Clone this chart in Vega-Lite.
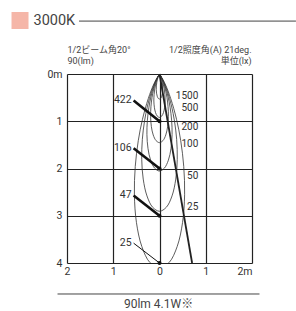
{
"$schema": "https://vega.github.io/schema/vega-lite/v6.json",
"width": 185, "height": 189,
"autosize": {"type": "none"},
"padding": {"left": 67, "top": 74, "right": 44, "bottom": 48},
"background": "white",
"config": {
  "view": {"stroke": null},
  "axis": {"labelFont": "Roboto", "labelFontSize": 10.5, "labelColor": "#333", "grid": true, "gridColor": "#222", "gridWidth": 1.2, "gridOpacity": 1, "domain": false, "ticks": false, "title": null},
  "text": {"font": "Roboto", "color": "#333"}
},
"datasets": {
  "contours": [
    {"c":1500,"o":0,"x":0,"y":0},{"c":1500,"o":1,"x":-0.016,"y":0.027},{"c":1500,"o":2,"x":-0.031,"y":0.067},{"c":1500,"o":3,"x":-0.048,"y":0.124},{"c":1500,"o":4,"x":-0.059,"y":0.182},{"c":1500,"o":5,"x":-0.068,"y":0.252},{"c":1500,"o":6,"x":-0.070,"y":0.330},{"c":1500,"o":7,"x":-0.064,"y":0.406},{"c":1500,"o":8,"x":-0.049,"y":0.471},{"c":1500,"o":9,"x":-0.027,"y":0.515},{"c":1500,"o":10,"x":0,"y":0.530},{"c":1500,"o":11,"x":0.027,"y":0.515},{"c":1500,"o":12,"x":0.049,"y":0.471},{"c":1500,"o":13,"x":0.064,"y":0.406},{"c":1500,"o":14,"x":0.070,"y":0.330},{"c":1500,"o":15,"x":0.068,"y":0.252},{"c":1500,"o":16,"x":0.059,"y":0.182},{"c":1500,"o":17,"x":0.048,"y":0.124},{"c":1500,"o":18,"x":0.031,"y":0.067},{"c":1500,"o":19,"x":0.016,"y":0.027},{"c":1500,"o":20,"x":0,"y":0},
    {"c":500,"o":0,"x":0,"y":0},{"c":500,"o":1,"x":-0.027,"y":0.047},{"c":500,"o":2,"x":-0.054,"y":0.117},{"c":500,"o":3,"x":-0.082,"y":0.215},{"c":500,"o":4,"x":-0.103,"y":0.316},{"c":500,"o":5,"x":-0.117,"y":0.438},{"c":500,"o":6,"x":-0.122,"y":0.572},{"c":500,"o":7,"x":-0.111,"y":0.704},{"c":500,"o":8,"x":-0.086,"y":0.816},{"c":500,"o":9,"x":-0.047,"y":0.892},{"c":500,"o":10,"x":0,"y":0.919},{"c":500,"o":11,"x":0.047,"y":0.892},{"c":500,"o":12,"x":0.086,"y":0.816},{"c":500,"o":13,"x":0.111,"y":0.704},{"c":500,"o":14,"x":0.122,"y":0.572},{"c":500,"o":15,"x":0.117,"y":0.438},{"c":500,"o":16,"x":0.103,"y":0.316},{"c":500,"o":17,"x":0.082,"y":0.215},{"c":500,"o":18,"x":0.054,"y":0.117},{"c":500,"o":19,"x":0.027,"y":0.047},{"c":500,"o":20,"x":0,"y":0},
    {"c":200,"o":0,"x":0,"y":0},{"c":200,"o":1,"x":-0.043,"y":0.074},{"c":200,"o":2,"x":-0.086,"y":0.185},{"c":200,"o":3,"x":-0.130,"y":0.339},{"c":200,"o":4,"x":-0.162,"y":0.499},{"c":200,"o":5,"x":-0.185,"y":0.692},{"c":200,"o":6,"x":-0.192,"y":0.904},{"c":200,"o":7,"x":-0.176,"y":1.112},{"c":200,"o":8,"x":-0.136,"y":1.290},{"c":200,"o":9,"x":-0.074,"y":1.410},{"c":200,"o":10,"x":0,"y":1.453},{"c":200,"o":11,"x":0.074,"y":1.410},{"c":200,"o":12,"x":0.136,"y":1.290},{"c":200,"o":13,"x":0.176,"y":1.112},{"c":200,"o":14,"x":0.192,"y":0.904},{"c":200,"o":15,"x":0.185,"y":0.692},{"c":200,"o":16,"x":0.162,"y":0.499},{"c":200,"o":17,"x":0.130,"y":0.339},{"c":200,"o":18,"x":0.086,"y":0.185},{"c":200,"o":19,"x":0.043,"y":0.074},{"c":200,"o":20,"x":0,"y":0},
    {"c":100,"o":0,"x":0,"y":0},{"c":100,"o":1,"x":-0.061,"y":0.105},{"c":100,"o":2,"x":-0.122,"y":0.261},{"c":100,"o":3,"x":-0.184,"y":0.479},{"c":100,"o":4,"x":-0.229,"y":0.705},{"c":100,"o":5,"x":-0.262,"y":0.978},{"c":100,"o":6,"x":-0.272,"y":1.278},{"c":100,"o":7,"x":-0.249,"y":1.573},{"c":100,"o":8,"x":-0.192,"y":1.824},{"c":100,"o":9,"x":-0.104,"y":1.994},{"c":100,"o":10,"x":0,"y":2.054},{"c":100,"o":11,"x":0.104,"y":1.994},{"c":100,"o":12,"x":0.192,"y":1.824},{"c":100,"o":13,"x":0.249,"y":1.573},{"c":100,"o":14,"x":0.272,"y":1.278},{"c":100,"o":15,"x":0.262,"y":0.978},{"c":100,"o":16,"x":0.229,"y":0.705},{"c":100,"o":17,"x":0.184,"y":0.479},{"c":100,"o":18,"x":0.122,"y":0.261},{"c":100,"o":19,"x":0.061,"y":0.105},{"c":100,"o":20,"x":0,"y":0},
    {"c":50,"o":0,"x":0,"y":0},{"c":50,"o":1,"x":-0.086,"y":0.148},{"c":50,"o":2,"x":-0.172,"y":0.369},{"c":50,"o":3,"x":-0.260,"y":0.678},{"c":50,"o":4,"x":-0.324,"y":0.998},{"c":50,"o":5,"x":-0.371,"y":1.383},{"c":50,"o":6,"x":-0.384,"y":1.807},{"c":50,"o":7,"x":-0.352,"y":2.224},{"c":50,"o":8,"x":-0.271,"y":2.580},{"c":50,"o":9,"x":-0.148,"y":2.820},{"c":50,"o":10,"x":0,"y":2.905},{"c":50,"o":11,"x":0.148,"y":2.820},{"c":50,"o":12,"x":0.271,"y":2.580},{"c":50,"o":13,"x":0.352,"y":2.224},{"c":50,"o":14,"x":0.384,"y":1.807},{"c":50,"o":15,"x":0.371,"y":1.383},{"c":50,"o":16,"x":0.324,"y":0.998},{"c":50,"o":17,"x":0.260,"y":0.678},{"c":50,"o":18,"x":0.172,"y":0.369},{"c":50,"o":19,"x":0.086,"y":0.148},{"c":50,"o":20,"x":0,"y":0},
    {"c":25,"o":0,"x":0,"y":0},{"c":25,"o":1,"x":-0.121,"y":0.210},{"c":25,"o":2,"x":-0.243,"y":0.522},{"c":25,"o":3,"x":-0.368,"y":0.959},{"c":25,"o":4,"x":-0.459,"y":1.411},{"c":25,"o":5,"x":-0.524,"y":1.956},{"c":25,"o":6,"x":-0.543,"y":2.556},{"c":25,"o":7,"x":-0.498,"y":3.146},{"c":25,"o":8,"x":-0.383,"y":3.649},{"c":25,"o":9,"x":-0.209,"y":3.989},{"c":25,"o":10,"x":0,"y":4.109},{"c":25,"o":11,"x":0.209,"y":3.989},{"c":25,"o":12,"x":0.383,"y":3.649},{"c":25,"o":13,"x":0.498,"y":3.146},{"c":25,"o":14,"x":0.543,"y":2.556},{"c":25,"o":15,"x":0.524,"y":1.956},{"c":25,"o":16,"x":0.459,"y":1.411},{"c":25,"o":17,"x":0.368,"y":0.959},{"c":25,"o":18,"x":0.243,"y":0.522},{"c":25,"o":19,"x":0.121,"y":0.210},{"c":25,"o":20,"x":0,"y":0}
  ],
  "beam": [{"x": 0, "y": 0, "x2": 0.705, "y2": 4}],
  "centers": [
    {"v": 422, "x": -0.56, "y": 0.56, "x2": 0, "y2": 1},
    {"v": 106, "x": -0.56, "y": 1.57, "x2": 0, "y2": 2},
    {"v": 47, "x": -0.56, "y": 2.57, "x2": 0, "y2": 3},
    {"v": 25, "x": -0.56, "y": 3.58, "x2": 0, "y2": 4}
  ],
  "rlabels": [
    {"t": "1500", "x": 0.84, "y": 0.46},
    {"t": "500", "x": 0.84, "y": 0.73},
    {"t": "200", "x": 0.84, "y": 1.13},
    {"t": "100", "x": 0.84, "y": 1.48},
    {"t": "50", "x": 0.84, "y": 2.16},
    {"t": "25", "x": 0.84, "y": 2.81}
  ]
},
"layer": [
  {
    "data": {"name": "contours"},
    "mark": {"type": "line", "interpolate": "catmull-rom", "clip": true, "stroke": "#333", "strokeWidth": 0.8},
    "encoding": {
      "x": {"field": "x", "type": "quantitative", "scale": {"domain": [-2, 2], "nice": false, "zero": false},
            "axis": {"values": [-2, -1, 0, 1, 2], "labelExpr": "datum.value == 2 ? '2m' : format(abs(datum.value), 'd')", "labelPadding": 3, "labelAlign": {"condition": {"test": "datum.value == 2", "value": "right"}, "value": "center"}}},
      "y": {"field": "y", "type": "quantitative", "scale": {"domain": [0, 4], "nice": false, "zero": false, "reverse": true},
            "axis": {"values": [0, 1, 2, 3, 4], "labelExpr": "datum.value == 0 ? '0m' : format(datum.value, 'd')", "labelPadding": 5}},
      "detail": {"field": "c", "type": "nominal"},
      "order": {"field": "o", "type": "quantitative"}
    }
  },
  {
    "data": {"name": "beam"},
    "mark": {"type": "rule", "stroke": "#222", "strokeWidth": 1.8},
    "encoding": {"x": {"field": "x", "type": "quantitative"}, "y": {"field": "y", "type": "quantitative"}, "x2": {"field": "x2"}, "y2": {"field": "y2"}}
  },
  {
    "data": {"name": "centers"},
    "transform": [{"filter": "datum.v != 25"}],
    "mark": {"type": "rule", "stroke": "#111", "strokeWidth": 2.6},
    "encoding": {"x": {"field": "x", "type": "quantitative"}, "y": {"field": "y", "type": "quantitative"}, "x2": {"field": "x2"}, "y2": {"field": "y2"}}
  },
  {
    "data": {"name": "centers"},
    "transform": [{"filter": "datum.v == 25"}],
    "mark": {"type": "rule", "stroke": "#111", "strokeWidth": 1},
    "encoding": {"x": {"field": "x", "type": "quantitative"}, "y": {"field": "y", "type": "quantitative"}, "x2": {"field": "x2"}, "y2": {"field": "y2"}}
  },
  {
    "data": {"name": "centers"},
    "mark": {"type": "circle", "size": 16, "color": "#111", "opacity": 1},
    "encoding": {"x": {"field": "x2", "type": "quantitative"}, "y": {"field": "y2", "type": "quantitative"}}
  },
  {
    "data": {"name": "centers"},
    "mark": {"type": "text", "align": "right", "baseline": "middle", "dx": -2, "fontSize": 10.5},
    "encoding": {"x": {"field": "x", "type": "quantitative"}, "y": {"field": "y", "type": "quantitative"}, "text": {"field": "v"}}
  },
  {
    "data": {"name": "rlabels"},
    "mark": {"type": "text", "align": "right", "baseline": "middle", "fontSize": 10},
    "encoding": {"x": {"field": "x", "type": "quantitative"}, "y": {"field": "y", "type": "quantitative"}, "text": {"field": "t"}}
  },
  {
    "data": {"values": [{}]},
    "mark": {"type": "square", "size": 289, "color": "#f5b6a8", "opacity": 1, "filled": true},
    "encoding": {"x": {"datum": -3.016, "type": "quantitative"}, "y": {"datum": -1.132, "type": "quantitative"}}
  },
  {
    "data": {"values": [{}]},
    "mark": {"type": "text", "text": "3000K", "align": "left", "baseline": "middle", "fontSize": 14.5, "color": "#444"},
    "encoding": {"x": {"datum": -2.724, "type": "quantitative"}, "y": {"datum": -1.12, "type": "quantitative"}}
  },
  {
    "data": {"values": [{}]},
    "mark": {"type": "rule", "stroke": "#444", "strokeWidth": 1},
    "encoding": {"x": {"datum": -1.74, "type": "quantitative"}, "x2": {"datum": 2.95}, "y": {"datum": -1.12, "type": "quantitative"}}
  },
  {
    "data": {"values": [{}]},
    "mark": {"type": "text", "text": "1/2ビーム角20°", "align": "left", "baseline": "middle", "fontSize": 9, "font": "Roboto, Noto Sans CJK JP", "color": "#444"},
    "encoding": {"x": {"datum": -1.99, "type": "quantitative"}, "y": {"datum": -0.5, "type": "quantitative"}}
  },
  {
    "data": {"values": [{}]},
    "mark": {"type": "text", "text": "90(lm)", "align": "left", "baseline": "middle", "fontSize": 9, "font": "Roboto, Noto Sans CJK JP", "color": "#444"},
    "encoding": {"x": {"datum": -1.99, "type": "quantitative"}, "y": {"datum": -0.27, "type": "quantitative"}}
  },
  {
    "data": {"values": [{}]},
    "mark": {"type": "text", "text": "1/2照度角(A) 21deg.", "align": "right", "baseline": "middle", "fontSize": 9, "font": "Roboto, Noto Sans CJK JP", "color": "#444"},
    "encoding": {"x": {"datum": 1.99, "type": "quantitative"}, "y": {"datum": -0.5, "type": "quantitative"}}
  },
  {
    "data": {"values": [{}]},
    "mark": {"type": "text", "text": "単位(lx)", "align": "right", "baseline": "middle", "fontSize": 9, "font": "Roboto, Noto Sans CJK JP", "color": "#444"},
    "encoding": {"x": {"datum": 1.99, "type": "quantitative"}, "y": {"datum": -0.27, "type": "quantitative"}}
  },
  {
    "data": {"values": [{}]},
    "mark": {"type": "rule", "stroke": "#444", "strokeWidth": 1},
    "encoding": {"x": {"datum": -2.205, "type": "quantitative"}, "x2": {"datum": 2.162}, "y": {"datum": 4.656, "type": "quantitative"}}
  },
  {
    "data": {"values": [{}]},
    "mark": {"type": "text", "text": "90lm 4.1W※", "align": "center", "baseline": "middle", "fontSize": 12, "color": "#444", "font": "Roboto, Noto Sans CJK JP"},
    "encoding": {"x": {"datum": -0.02, "type": "quantitative"}, "y": {"datum": 4.87, "type": "quantitative"}}
  }
]
}
